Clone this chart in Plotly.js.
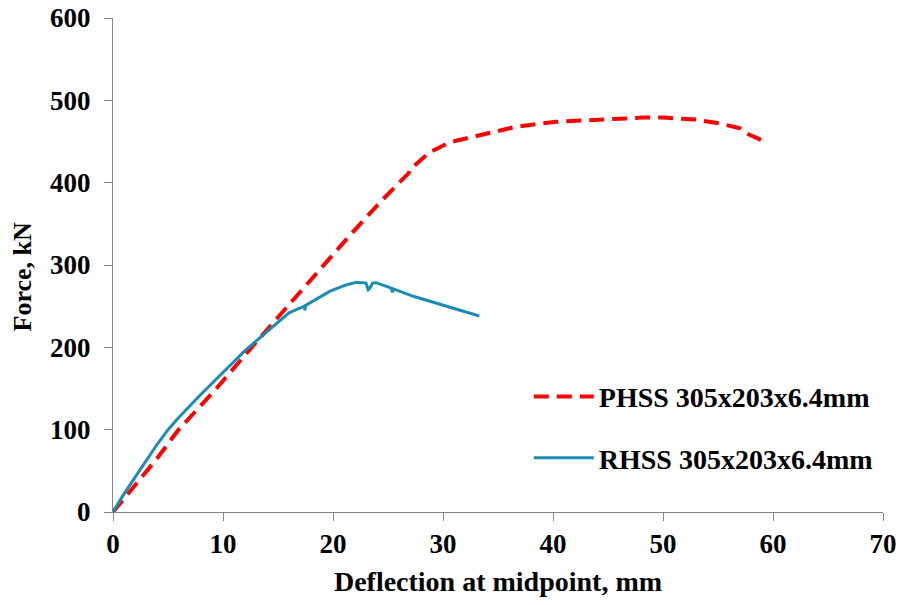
<!DOCTYPE html>
<html>
<head>
<meta charset="utf-8">
<script src="https://cdn.plot.ly/plotly-3.0.1.min.js"></script>
<style>html,body{margin:0;padding:0;background:#fff;}#chart{width:901px;height:605px;}</style>
</head>
<body>
<div id="chart"></div>
<script>
const phssName = "PHSS 305x203x6.4mm";
const rhssName = "RHSS 305x203x6.4mm";
const xTitle = "Deflection at midpoint, mm";
const yTitle = "Force, kN";
const phssX = [0, 1, 2.4, 4, 5.9, 9.4, 12.6, 16.3, 21.8, 24.4, 26.9, 27.0, 28.8, 30.6, 33.6, 36.65, 40.3, 44.2, 48.2, 50, 53, 55.1, 57.0, 57.4, 57.9, 59.4];
const phssY = [0, 16, 40, 65, 99, 150, 200, 257, 340, 378, 412, 416, 437, 449, 459, 468, 474, 477, 479, 479, 476.6, 472, 466, 461, 458, 449];
const rhssX = [0, 1, 2, 3, 4, 5, 6, 8, 10, 12, 14, 16, 17.4, 17.45, 17.5, 18.5, 19.7, 21, 22.1, 23.0, 23.2, 23.35, 23.6, 23.9, 25.3, 25.4, 25.5, 27.3, 30.3, 33.3];
const rhssY = [0, 22, 42, 62, 82, 100, 115, 143, 170, 196, 219, 242, 250, 245, 251, 259, 268, 275, 279, 278, 270, 272, 278, 278.5, 272, 267, 271, 262, 249.6, 238];
const xTicks = [0, 10, 20, 30, 40, 50, 60, 70];
const yTicks = [0, 100, 200, 300, 400, 500, 600];

const fontFam = "Liberation Serif, Times New Roman, serif";
const traces = [
  {x: phssX, y: phssY, name: phssName, mode: "lines", legendgroup: "a",
   line: {color: "#ff0000", width: 4, dash: "15px,8px"}},
  {x: rhssX, y: rhssY, name: rhssName, mode: "lines", legendgroup: "b",
   line: {color: "#1a8bb5", width: 3}}
];
const axisCommon = {
  showgrid: false, zeroline: false, showline: true, linecolor: "#868686", linewidth: 1,
  ticks: "outside", ticklen: 8, tickcolor: "#868686",
  tickfont: {family: fontFam, size: 27, color: "#000", weight: "bold"}
};
const layout = {
  width: 901, height: 605,
  margin: {l: 113, r: 18, t: 18, b: 93},
  paper_bgcolor: "#fff", plot_bgcolor: "#fff",
  showlegend: true,
  legend: {x: 0.54, y: 0.284, xanchor: "left", yanchor: "top", bgcolor: "rgba(0,0,0,0)",
           font: {family: fontFam, size: 28, color: "#000", weight: "bold"},
           itemwidth: 60, tracegroupgap: 22},
  xaxis: Object.assign({}, axisCommon, {range: [0, 70], tickvals: xTicks,
    title: {text: xTitle, font: {family: fontFam, size: 28, color: "#000", weight: "bold"}, standoff: 12}}),
  yaxis: Object.assign({}, axisCommon, {range: [0, 600], tickvals: yTicks, ticklabelstandoff: 8}),
  annotations: [{text: yTitle, xref: "paper", yref: "paper", x: -0.118, y: 0.475,
    xanchor: "center", yanchor: "middle", textangle: -90, showarrow: false,
    font: {family: fontFam, size: 26, color: "#000", weight: "bold"}}]
};
Plotly.newPlot("chart", traces, layout, {displayModeBar: false, staticPlot: true});
</script>
</body>
</html>
